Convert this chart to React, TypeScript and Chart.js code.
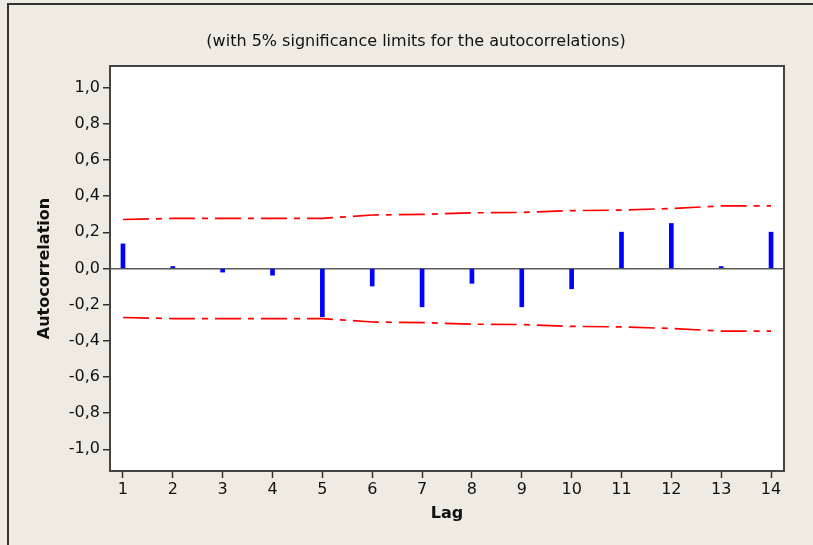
import React, { useEffect, useRef } from "react";
import { Chart, registerables } from "chart.js";

Chart.register(...registerables);

const lags = [1, 2, 3, 4, 5, 6, 7, 8, 9, 10, 11, 12, 13, 14];
const acf = [0.136, 0.011, -0.02, -0.037, -0.267, -0.097, -0.212, -0.082, -0.212, -0.112, 0.201, 0.249, 0.011, 0.201];
const upperLimit = [0.271, 0.277, 0.277, 0.277, 0.277, 0.296, 0.299, 0.308, 0.31, 0.32, 0.323, 0.332, 0.346, 0.346];
const lowerLimit = [-0.271, -0.277, -0.277, -0.277, -0.277, -0.296, -0.299, -0.308, -0.31, -0.32, -0.323, -0.332, -0.346, -0.346];
const yTicks = [-1.0, -0.8, -0.6, -0.4, -0.2, 0.0, 0.2, 0.4, 0.6, 0.8, 1.0];
const titleText = "(with 5% significance limits for the autocorrelations)";
const xTitle = "Lag";
const yTitle = "Autocorrelation";

const BEIGE = "#efebe2";

const framePlugin = {
  id: "framePlugin",
  beforeDraw(chart: any) {
    const { ctx, chartArea, width, height } = chart;
    ctx.save();
    ctx.fillStyle = BEIGE;
    ctx.fillRect(0, 0, width, height);
    ctx.fillStyle = "#ffffff";
    ctx.fillRect(chartArea.left, chartArea.top, chartArea.right - chartArea.left, chartArea.bottom - chartArea.top);
    ctx.restore();
  },
  afterDraw(chart: any) {
    const { ctx, chartArea, width, height } = chart;
    ctx.save();
    ctx.strokeStyle = "#444444";
    ctx.lineWidth = 2;
    ctx.strokeRect(chartArea.left, chartArea.top, chartArea.right - chartArea.left, chartArea.bottom - chartArea.top);
    ctx.strokeStyle = "#333333";
    ctx.lineWidth = 2;
    ctx.beginPath();
    ctx.moveTo(8, height);
    ctx.lineTo(8, 4);
    ctx.lineTo(width, 4);
    ctx.stroke();
    ctx.fillStyle = "#111111";
    ctx.font = "16px 'DejaVu Sans', sans-serif";
    ctx.textAlign = "center";
    ctx.textBaseline = "middle";
    ctx.fillText(titleText, 416, 42);
    ctx.restore();
  },
};

export default function App() {
  const canvasRef = useRef<HTMLCanvasElement | null>(null);

  useEffect(() => {
    if (!canvasRef.current) return;
    Chart.defaults.font.family = "'DejaVu Sans', sans-serif";
    Chart.defaults.color = "#111111";
    const chart = new Chart(canvasRef.current, {
      type: "bar",
      data: {
        datasets: [
          {
            type: "bar",
            data: lags.map((l, i) => ({ x: l, y: acf[i] })),
            backgroundColor: "#0000ff",
            borderWidth: 0,
            barThickness: 4,
            order: 1,
          } as any,
          {
            type: "line",
            data: lags.map((l, i) => ({ x: l, y: upperLimit[i] })),
            borderColor: "#ff0000",
            borderWidth: 1.7,
            borderDash: [26, 7, 6, 7],
            pointRadius: 0,
            fill: false,
            order: 0,
          } as any,
          {
            type: "line",
            data: lags.map((l, i) => ({ x: l, y: lowerLimit[i] })),
            borderColor: "#ff0000",
            borderWidth: 1.7,
            borderDash: [26, 7, 6, 7],
            pointRadius: 0,
            fill: false,
            order: 0,
          } as any,
        ],
      },
      options: {
        responsive: false,
        animation: false,
        layout: { padding: { left: 0, right: 29, top: 66, bottom: 0 } },
        plugins: {
          legend: { display: false },
          tooltip: { enabled: false },
          title: { display: false },
        },
        scales: {
          x: {
            type: "linear",
            min: 0.74,
            max: 14.26,
            offset: false,
            border: { display: false },
            grid: {
              offset: false,
              drawOnChartArea: false,
              color: "#333333",
              tickColor: "#333333",
              tickLength: 7,
              tickWidth: 1.5,
            },
            afterBuildTicks: (scale: any) => {
              scale.ticks = lags.map((v) => ({ value: v }));
            },
            afterFit: (scale: any) => {
              scale.height = 74;
            },
            ticks: {
              font: { size: 16 },
              color: "#111111",
              padding: 2,
              maxRotation: 0,
              autoSkip: false,
              callback: (v: any) => String(v),
            },
            title: {
              display: true,
              text: xTitle,
              color: "#111111",
              font: { size: 16, weight: "bold" },
              padding: { top: 0, bottom: 22 },
            },
          },
          y: {
            type: "linear",
            min: -1.12,
            max: 1.12,
            border: { display: false },
            grid: {
              color: (ctx: any) => (ctx.tick && ctx.tick.value === 0 ? "#5a5a5a" : "rgba(0,0,0,0)"),
              lineWidth: 1.5,
              tickColor: "#333333",
              tickLength: 7,
              tickWidth: 1.5,
            },
            afterBuildTicks: (scale: any) => {
              scale.ticks = yTicks.map((v) => ({ value: v }));
            },
            afterFit: (scale: any) => {
              scale.width = 110;
            },
            ticks: {
              font: { size: 16 },
              color: "#111111",
              padding: 3,
              autoSkip: false,
              callback: (v: any) => Number(v).toFixed(1).replace(".", ","),
            },
            title: {
              display: true,
              text: yTitle,
              color: "#111111",
              font: { size: 16, weight: "bold" },
              padding: { top: 35, bottom: 0 },
            },
          },
        },
      },
      plugins: [framePlugin],
    } as any);
    return () => chart.destroy();
  }, []);

  return (
    <div style={{ position: "absolute", left: 0, top: 0, width: 813, height: 545, background: BEIGE }}>
      <canvas ref={canvasRef} width={813} height={545} style={{ display: "block", width: 813, height: 545 }} />
    </div>
  );
}
